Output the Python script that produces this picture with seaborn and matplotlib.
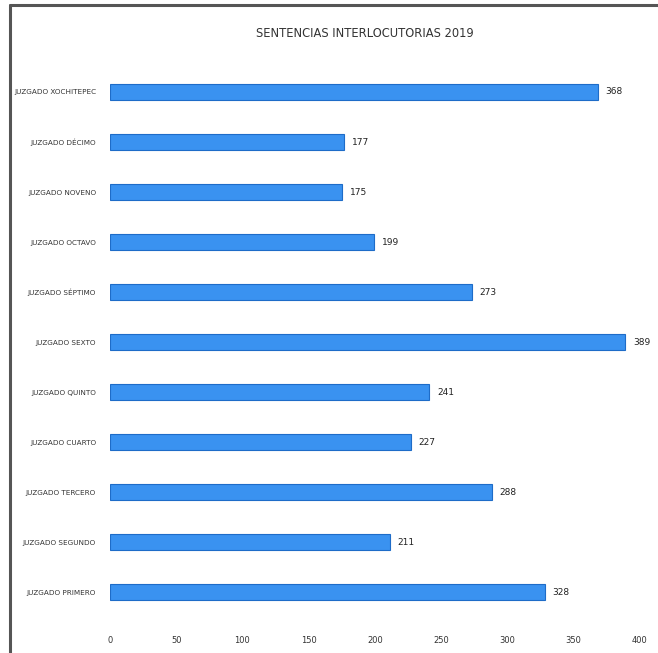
import seaborn as sns
import matplotlib.pyplot as plt
import matplotlib.lines as mlines
import pandas as pd

juzgados = ["JUZGADO XOCHITEPEC", "JUZGADO DÉCIMO", "JUZGADO NOVENO",
            "JUZGADO OCTAVO", "JUZGADO SÉPTIMO", "JUZGADO SEXTO",
            "JUZGADO QUINTO", "JUZGADO CUARTO", "JUZGADO TERCERO",
            "JUZGADO SEGUNDO", "JUZGADO PRIMERO"]
sentencias = [368, 177, 175, 199, 273, 389, 241, 227, 288, 211, 328]
xticks = [0, 50, 100, 150, 200, 250, 300, 350, 400]

df = pd.DataFrame({"juzgado": juzgados, "sentencias": sentencias})

sns.set_style("white")
plt.rcParams['font.family'] = ['Liberation Sans Narrow', 'DejaVu Sans']

fig = plt.figure(figsize=(6.58, 6.53), dpi=100)
ax = fig.add_axes([0.167, 0.0551, 0.8056, 0.8423])

sns.barplot(data=df, x="sentencias", y="juzgado", ax=ax, color="#3A92F0",
            width=0.32, edgecolor="#1E6CC8", linewidth=0.8, saturation=1)

for i, v in enumerate(sentencias):
    ax.text(v + 6, i, str(v), va="center", ha="left", fontsize=6.5,
            color="#222222", clip_on=False)

ax.set_xlim(0, 400)
ax.set_xticks(xticks)
ax.set_xticklabels([str(t) for t in xticks], fontsize=6, color="#333333")
ax.tick_params(axis="x", length=0, pad=14)
ax.tick_params(axis="y", length=0, pad=10, labelsize=5.2, labelcolor="#333333")
ax.set_xlabel("")
ax.set_ylabel("")
sns.despine(ax=ax, left=True, bottom=True)

fig.text(0.555, 0.949, "SENTENCIAS INTERLOCUTORIAS 2019", ha="center",
         va="center", fontsize=8.3, color="#333333")

# marco exterior
fig.add_artist(mlines.Line2D([0.015, 0.015], [0.0, 0.992], color="#555555",
                             linewidth=2.2, transform=fig.transFigure))
fig.add_artist(mlines.Line2D([0.015, 1.0], [0.992, 0.992], color="#555555",
                             linewidth=2.2, transform=fig.transFigure))

fig.savefig("out.png", dpi=100)
